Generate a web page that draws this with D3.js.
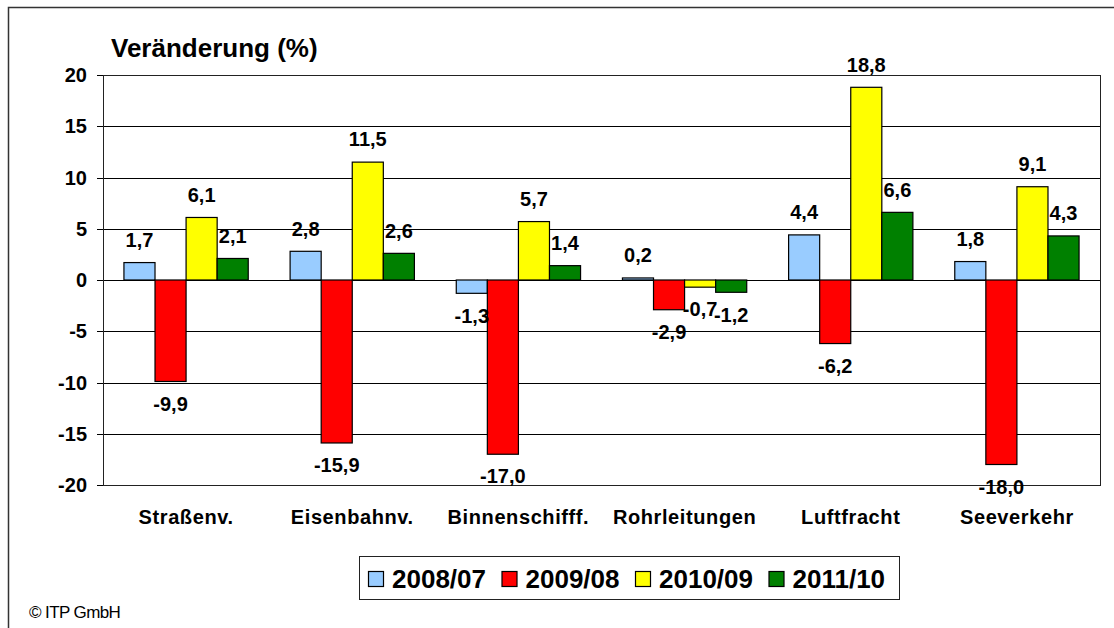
<!DOCTYPE html>
<html>
<head>
<meta charset="utf-8">
<script src="https://cdn.jsdelivr.net/npm/d3@7"></script>
<style>
  body { margin: 0; background: #fff; }
  svg { display: block; font-family: "Liberation Sans", Arial, sans-serif; }
</style>
</head>
<body>
<div id="chart"></div>
<script>
// data
let categories = ["Straßenv.", "Eisenbahnv.", "Binnenschifff.", "Rohrleitungen", "Luftfracht", "Seeverkehr"];
let seriesNames = ["2008/07", "2009/08", "2010/09", "2011/10"];
let v2008 = [1.7, 2.8, -1.3, 0.2, 4.4, 1.8];
let v2009 = [-9.9, -15.9, -17.0, -2.9, -6.2, -18.0];
let v2010 = [6.1, 11.5, 5.7, -0.7, 18.8, 9.1];
let v2011 = [2.1, 2.6, 1.4, -1.2, 6.6, 4.3];
let yTicks = [20, 15, 10, 5, 0, -5, -10, -15, -20];
let colors = ["#99CCFF", "#FF0000", "#FFFF00", "#008000"];

let allSeries = [v2008, v2009, v2010, v2011];

let width = 1114, height = 628;
let plot = { left: 103, top: 75, right: 1100, bottom: 485 };

let svg = d3.select("#chart").append("svg")
    .attr("width", width)
    .attr("height", height);

// outer frame (only left and top edges fall inside the picture)
svg.append("rect")
    .attr("x", 8.5).attr("y", 7.5)
    .attr("width", 1120).attr("height", 640)
    .attr("fill", "none")
    .attr("stroke", "#333")
    .attr("stroke-width", 1.5);

let x0 = d3.scaleBand()
    .domain(categories)
    .range([plot.left, plot.right])
    .paddingInner(0.252)
    .paddingOuter(0.126);

let x1 = d3.scaleBand()
    .domain(seriesNames)
    .range([0, x0.bandwidth()]);

let y = d3.scaleLinear()
    .domain([-20, 20])
    .range([plot.bottom, plot.top]);

// grid lines
svg.append("g")
    .selectAll("line")
    .data(yTicks)
    .enter()
    .append("line")
    .attr("x1", plot.left - 6)
    .attr("x2", plot.right)
    .attr("y1", d => Math.round(y(d)) + 0.5)
    .attr("y2", d => Math.round(y(d)) + 0.5)
    .attr("stroke", "#000")
    .attr("stroke-width", 1);

// plot border
svg.append("rect")
    .attr("x", plot.left + 0.5).attr("y", plot.top + 0.5)
    .attr("width", plot.right - plot.left).attr("height", plot.bottom - plot.top)
    .attr("fill", "none")
    .attr("stroke", "#222")
    .attr("stroke-width", 1);

// y tick labels
svg.append("g")
    .selectAll("text")
    .data(yTicks)
    .enter()
    .append("text")
    .attr("x", plot.left - 16)
    .attr("y", d => y(d))
    .attr("dy", "0.36em")
    .attr("text-anchor", "end")
    .attr("font-size", "20px")
    .attr("font-weight", "bold")
    .text(d => d);

// axis title
svg.append("text")
    .attr("x", 111)
    .attr("y", 57)
    .attr("font-size", "26px")
    .attr("font-weight", "bold")
    .text("Veränderung (%)");

// bars
let groups = svg.append("g")
    .selectAll("g")
    .data(categories)
    .enter()
    .append("g")
    .attr("transform", d => `translate(${x0(d)},0)`);

let barData = (c, i) => seriesNames.map((s, j) => ({ series: s, idx: j, value: allSeries[j][i] }));

groups.selectAll("rect")
    .data((c, i) => barData(c, i))
    .enter()
    .append("rect")
    .attr("x", d => x1(d.series))
    .attr("y", d => y(Math.max(0, d.value)))
    .attr("width", x1.bandwidth())
    .attr("height", d => Math.abs(y(d.value) - y(0)))
    .attr("fill", d => colors[d.idx])
    .attr("stroke", "#000")
    .attr("stroke-width", 1.2);

// value labels
groups.selectAll("text")
    .data((c, i) => barData(c, i))
    .enter()
    .append("text")
    .attr("x", d => x1(d.series) + x1.bandwidth() / 2)
    .attr("y", d => d.value >= 0 ? y(d.value) - 23 : y(d.value) + 22)
    .attr("dy", "0.36em")
    .attr("text-anchor", "middle")
    .attr("font-size", "20px")
    .attr("font-weight", "bold")
    .text(d => d3.format(".1f")(d.value).replace(".", ",").replace("−", "-"));

// category labels
svg.append("g")
    .selectAll("text")
    .data(categories)
    .enter()
    .append("text")
    .attr("x", d => x0(d) + x0.bandwidth() / 2)
    .attr("y", 517)
    .attr("dy", "0.36em")
    .attr("text-anchor", "middle")
    .attr("font-size", "20px")
    .attr("font-weight", "bold")
    .attr("letter-spacing", "0.6px")
    .text(d => d);

// legend
let legend = svg.append("g");
legend.append("rect")
    .attr("x", 359.5).attr("y", 556.5)
    .attr("width", 540).attr("height", 43)
    .attr("fill", "#fff")
    .attr("stroke", "#222")
    .attr("stroke-width", 1);

let items = legend.selectAll("g")
    .data(seriesNames)
    .enter()
    .append("g")
    .attr("transform", (d, i) => `translate(${368 + i * 133.5},0)`);

items.append("rect")
    .attr("x", 0.5).attr("y", 571.5)
    .attr("width", 15).attr("height", 15)
    .attr("fill", (d, i) => colors[i])
    .attr("stroke", "#000")
    .attr("stroke-width", 1.2);

items.append("text")
    .attr("x", 24)
    .attr("y", 588)
    .attr("font-size", "26px")
    .attr("font-weight", "bold")
    .text(d => d);

// copyright
svg.append("text")
    .attr("x", 29)
    .attr("y", 618)
    .attr("font-size", "17px")
    .attr("letter-spacing", "-0.6px")
    .text("© ITP GmbH");
</script>
</body>
</html>
